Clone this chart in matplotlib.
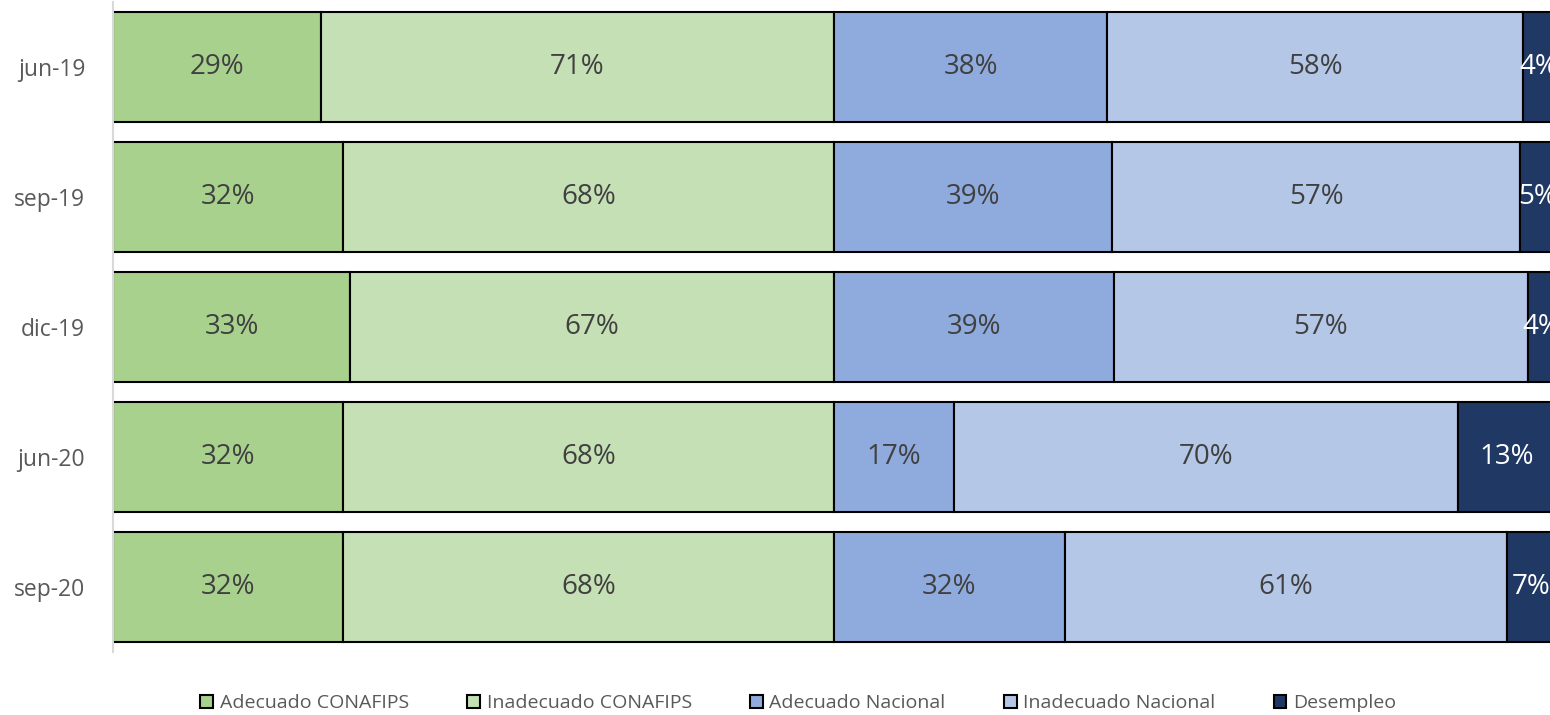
import matplotlib.pyplot as plt
import numpy as np

periods = ["jun-19", "sep-19", "dic-19", "jun-20", "sep-20"]
series = ["Adecuado CONAFIPS", "Inadecuado CONAFIPS", "Adecuado Nacional",
          "Inadecuado Nacional", "Desempleo"]
adec_conafips = [28.8, 31.9, 32.9, 31.9, 31.9]
inadec_conafips = [71.2, 68.1, 67.1, 68.1, 68.1]
adec_nacional = [37.9, 38.6, 38.8, 16.6, 32.0]
inadec_nacional = [57.7, 56.6, 57.4, 70.0, 61.4]
desempleo = [4.4, 4.8, 3.8, 13.4, 6.6]

colors = ["#A9D18E", "#C5E0B4", "#8FAADC", "#B4C7E7", "#203864"]
text_colors = ["#404040", "#404040", "#404040", "#404040", "white"]

plt.rcParams['font.family'] = ['Open Sans', 'DejaVu Sans']

fig = plt.figure(figsize=(15.5, 7.15), dpi=100)
ax = fig.add_axes([113 / 1550, 1 - 652 / 715, 1442 / 1550, 650 / 715])

data = [adec_conafips, inadec_conafips, adec_nacional, inadec_nacional, desempleo]
y = np.arange(len(periods))
left = np.zeros(len(periods))
for vals, name, col, tcol in zip(data, series, colors, text_colors):
    vals = np.array(vals)
    ax.barh(y, vals, left=left, height=0.84, color=col, edgecolor="black",
            linewidth=1.5, label=name)
    for yi, l, v in zip(y, left, vals):
        ax.text(l + v / 2, yi, f"{round(v):.0f}%", ha="center", va="center",
                fontsize=20, color=tcol)
    left = left + vals

ax.set_xlim(0, 200)
ax.set_ylim(4.5, -0.5)
ax.set_yticks(y)
ax.set_yticklabels(periods, fontsize=16.5, color="#595959")
ax.tick_params(axis="y", length=0, pad=20)
ax.set_xticks([])
for s in ["top", "right", "bottom"]:
    ax.spines[s].set_visible(False)
ax.spines["left"].set_color("#D9D9D9")
ax.spines["left"].set_linewidth(1.5)

fig.legend(loc="center", bbox_to_anchor=(0.515, 1 - 703 / 715), ncol=5, frameon=False,
           fontsize=14, handlelength=0.65, handleheight=0.65, handletextpad=0.35,
           columnspacing=3.0, labelcolor="#595959")

fig.savefig("out.png", dpi=100)
